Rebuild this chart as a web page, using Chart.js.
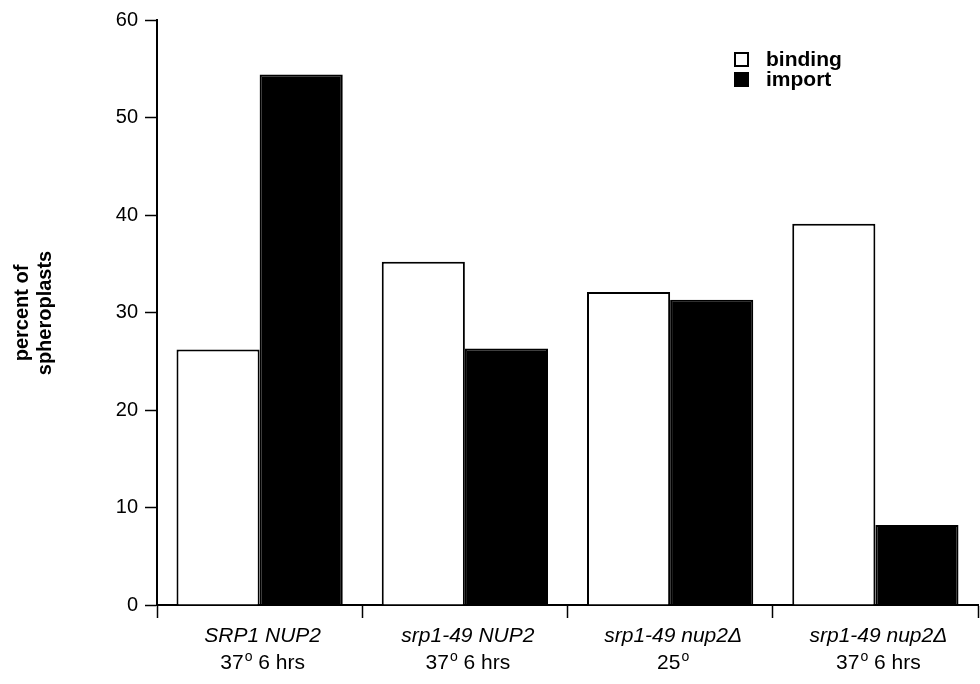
<!DOCTYPE html>
<html>
<head>
<meta charset="utf-8">
<script src="https://cdn.jsdelivr.net/npm/chart.js@4/dist/chart.umd.min.js"></script>
<style>
  html, body { margin: 0; padding: 0; background: #fff; }
  #wrap { width: 980px; height: 684px; }
</style>
</head>
<body>
<div id="wrap"><canvas id="spheroChart" width="980" height="684"></canvas></div>
<script>
// 데이터
const strainLabels = ['SRP1 NUP2', 'srp1-49 NUP2', 'srp1-49 nup2Δ', 'srp1-49 nup2Δ'];
const conditionLabels = ['37ᵒ 6 hrs', '37ᵒ 6 hrs', '25ᵒ', '37ᵒ 6 hrs'];
const bindingValues = [26.2, 35.2, 32.1, 39.1];
const importValues = [54.4, 26.3, 31.3, 8.2];
const yTitleLines = ['percent of', 'spheroplasts'];

const FONT = '"Liberation Sans", Arial, Helvetica, sans-serif';

// x축 라벨: 첫 줄 이탤릭, 둘째 줄 위첨자 o 포함
const xLabelPlugin = {
    id: 'xLabels',
    afterDraw(chart) {
        const ctx = chart.ctx;
        const xScale = chart.scales.x;
        ctx.save();
        ctx.fillStyle = '#000';
        ctx.textBaseline = 'middle';
        chart.data.labels.forEach((lab, i) => {
            const x = xScale.getPixelForValue(i);
            ctx.font = 'italic 21px ' + FONT;
            ctx.textAlign = 'center';
            ctx.fillText(lab[0], x + 3, 636);

            // 둘째 줄: 'ᵒ' 자리에 작은 o를 올려서 그림
            const parts = lab[1].split('ᵒ');
            ctx.font = '21px ' + FONT;
            const w0 = ctx.measureText(parts[0]).width;
            const w2 = parts[1] ? ctx.measureText(parts[1]).width : 0;
            ctx.font = '14px ' + FONT;
            const wo = ctx.measureText('o').width + 1;
            const left = x + 3 - (w0 + wo + w2) / 2;
            ctx.textAlign = 'left';
            ctx.font = '21px ' + FONT;
            ctx.fillText(parts[0], left, 663);
            ctx.font = '14px ' + FONT;
            ctx.fillText('o', left + w0 + 1, 657);
            ctx.font = '21px ' + FONT;
            if (parts[1]) ctx.fillText(parts[1], left + w0 + wo, 663);
        });
        ctx.restore();
    }
};

// y축 제목 (두 줄, 회전)
const yTitlePlugin = {
    id: 'yTitle',
    afterDraw(chart) {
        const ctx = chart.ctx;
        ctx.save();
        ctx.translate(33, 313);
        ctx.rotate(-Math.PI / 2);
        ctx.font = 'bold 20px ' + FONT;
        ctx.fillStyle = '#000';
        ctx.textAlign = 'center';
        ctx.textBaseline = 'middle';
        ctx.fillText(yTitleLines[0], 0, -11);
        ctx.fillText(yTitleLines[1], 0, 12);
        ctx.restore();
    }
};

// 범례 (오른쪽 위)
const legendPlugin = {
    id: 'boxLegend',
    afterDraw(chart) {
        const ctx = chart.ctx;
        ctx.save();
        chart.data.datasets.forEach((ds, i) => {
            const y = 52 + i * 20;
            ctx.fillStyle = ds.backgroundColor;
            ctx.fillRect(734, y, 15, 15);
            ctx.strokeStyle = '#000';
            ctx.lineWidth = 2;
            ctx.strokeRect(735, y + 1, 13, 13);
            ctx.fillStyle = '#000';
            ctx.font = 'bold 21px ' + FONT;
            ctx.textAlign = 'left';
            ctx.textBaseline = 'middle';
            ctx.fillText(ds.label, 766, y + 8);
        });
        ctx.restore();
    }
};

const ctx = document.getElementById('spheroChart').getContext('2d');
new Chart(ctx, {
    type: 'bar',
    data: {
        labels: strainLabels.map((s, i) => [s, conditionLabels[i]]),
        datasets: [
            {
                label: 'binding',
                data: bindingValues,
                backgroundColor: '#ffffff',
                borderColor: '#000000',
                borderWidth: 2,
            },
            {
                label: 'import',
                data: importValues,
                backgroundColor: '#000000',
                borderColor: '#000000',
                borderWidth: 2,
            },
        ],
    },
    options: {
        responsive: false,
        animation: false,
        events: [],
        layout: { padding: { top: 20, right: 2, left: 0, bottom: 0 } },
        datasets: { bar: { categoryPercentage: 0.81, barPercentage: 1.0 } },
        plugins: {
            legend: { display: false },
            tooltip: { enabled: false },
        },
        scales: {
            x: {
                ticks: { display: false },
                grid: {
                    drawOnChartArea: false,
                    tickLength: 13,
                    tickColor: '#000',
                    tickWidth: 1.5,
                },
                border: { color: '#000', width: 2 },
                afterFit(scale) { scale.height = 79; },
            },
            y: {
                min: 0,
                max: 60,
                ticks: {
                    stepSize: 10,
                    color: '#000',
                    padding: 7,
                    font: { family: FONT, size: 20 },
                },
                grid: {
                    drawOnChartArea: false,
                    tickLength: 12,
                    tickColor: '#000',
                    tickWidth: 1.5,
                },
                border: { color: '#000', width: 2 },
                afterFit(scale) { scale.width = 157; },
            },
        },
    },
    plugins: [xLabelPlugin, yTitlePlugin, legendPlugin],
});
</script>
</body>
</html>
